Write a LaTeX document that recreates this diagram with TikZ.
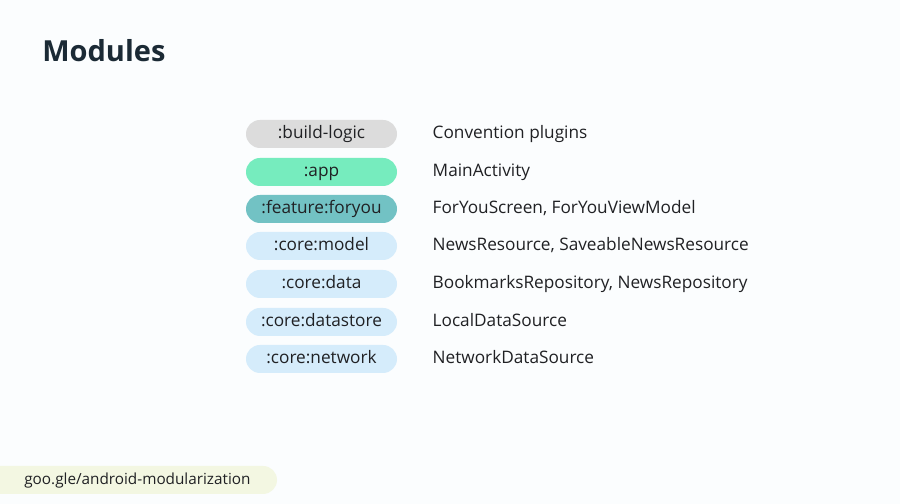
\documentclass[tikz,border=0pt]{standalone}
\usepackage{fontspec}
\setmainfont{Open Sans}
\usetikzlibrary{positioning}
\definecolor{bgcol}{HTML}{FBFDFE}
\definecolor{titlecol}{HTML}{1B2A35}
\definecolor{textcol}{HTML}{202124}
\definecolor{greycol}{HTML}{DCDCDC}
\definecolor{mintcol}{HTML}{76ECBE}
\definecolor{tealcol}{HTML}{72C2C4}
\definecolor{bluecol}{HTML}{D5ECFB}
\definecolor{linkcol}{HTML}{F3F7E2}
\tikzset{
  pill/.style={rectangle, rounded corners=0.28cm, minimum height=0.56cm, minimum width=3.02cm, inner sep=0pt, text height=0.72em, text depth=0.2em, text=textcol, font=\fontsize{9.8}{12}\selectfont},
  desc/.style={right=0.7cm of #1, anchor=west, inner sep=0pt, text height=0.72em, text depth=0.2em, text=textcol, font=\fontsize{9.8}{12}\selectfont}
}
\begin{document}
\begin{tikzpicture}
  % Background
  \fill[bgcol] (0, 0) rectangle (18, 10.08);
  \useasboundingbox (0, 0) rectangle (18, 10.08);
  % Header
  \node (title) [anchor=base west, inner sep=0pt, text=titlecol, font=\fontsize{16.5}{20}\selectfont\bfseries] at (0.84, 8.84) {Modules};
  % Nodes
  \node (buildlogic) [pill, fill=greycol] at (6.43, 7.40) {:build-logic};
  \node (app) [pill, fill=mintcol] at (6.43, 6.64) {:app};
  \node (feature) [pill, fill=tealcol] at (6.43, 5.90) {:feature:foryou};
  \node (model) [pill, fill=bluecol] at (6.43, 5.16) {:core:model};
  \node (data) [pill, fill=bluecol] at (6.43, 4.40) {:core:data};
  \node (datastore) [pill, fill=bluecol] at (6.43, 3.64) {:core:datastore};
  \node (network) [pill, fill=bluecol] at (6.43, 2.90) {:core:network};
  % Descriptions
  \node (buildlogicD) [desc=buildlogic] {Convention plugins};
  \node (appD) [desc=app] {MainActivity};
  \node (featureD) [desc=feature] {ForYouScreen, ForYouViewModel};
  \node (modelD) [desc=model] {NewsResource, SaveableNewsResource};
  \node (dataD) [desc=data] {BookmarksRepository, NewsRepository};
  \node (datastoreD) [desc=datastore] {LocalDataSource};
  \node (networkD) [desc=network] {NetworkDataSource};
  % Footer
  \fill[linkcol] (-0.3, 0.2) [rounded corners=0.28cm] rectangle (5.54, 0.76);
  \node (link) [anchor=west, inner sep=0pt, text height=0.72em, text depth=0.2em, text=textcol, font=\fontsize{8.7}{11}\selectfont] at (0.48, 0.48) {goo.gle/android-modularization};
\end{tikzpicture}
\end{document}
